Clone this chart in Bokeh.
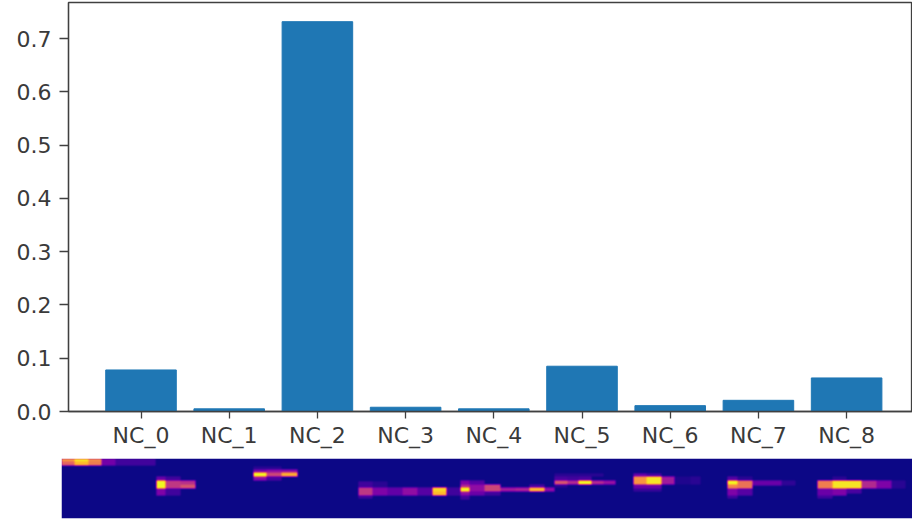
import numpy as np
from bokeh.embed import file_html
from bokeh.resources import INLINE
from bokeh.plotting import figure
from bokeh.layouts import column
from bokeh.models import Range1d, FixedTicker, NumeralTickFormatter, LinearColorMapper
from bokeh.palettes import Plasma256

categories = ["NC_0", "NC_1", "NC_2", "NC_3", "NC_4", "NC_5", "NC_6", "NC_7", "NC_8"]
importance = [0.078, 0.005, 0.732, 0.008, 0.005, 0.085, 0.011, 0.021, 0.063]
y_ticks = [0.0, 0.1, 0.2, 0.3, 0.4, 0.5, 0.6, 0.7]

HEAT_W, HEAT_H = 850, 60
# heat-map patches per component: (column from, column to, row from, row to, intensity)
heat_nc0 = [(0, 13, 0, 3, .75), (0, 13, 3, 7, .6), (13, 27, 0, 3, .95), (13, 27, 3, 7, .85),
            (27, 40, 0, 3, .72), (27, 40, 3, 7, .68), (40, 54, 0, 7, .22), (54, 94, 0, 7, .1)]
heat_nc1 = [(95, 104, 18, 22, .2), (95, 104, 22, 30, 1.0), (95, 104, 30, 37, .25),
            (104, 119, 18, 22, .1), (104, 119, 22, 30, .45), (104, 119, 30, 37, .1),
            (119, 134, 22, 26, .42), (119, 134, 26, 30, .55)]
heat_nc2 = [(192, 220, 8, 11, .05), (192, 205, 11, 14, .25), (192, 205, 14, 18, 1.0), (192, 205, 18, 22, .3),
            (205, 220, 11, 14, .3), (205, 220, 14, 18, .5), (205, 220, 18, 22, .12),
            (220, 236, 11, 14, .3), (220, 236, 14, 18, .82)]
heat_nc3 = [(297, 311, 23, 29, .1), (297, 311, 29, 37, .45), (297, 311, 37, 40, .1),
            (311, 326, 23, 29, .05), (311, 326, 29, 37, .25), (326, 341, 29, 37, .18),
            (341, 356, 29, 37, .3), (356, 371, 29, 37, .15), (371, 385, 29, 33, .92), (371, 385, 33, 37, .85),
            (385, 399, 29, 37, .1)]
heat_nc4 = [(399, 408, 22, 26, .25), (399, 408, 26, 29, .4), (399, 408, 29, 33, 1.0), (399, 408, 33, 37, .3),
            (399, 408, 37, 41, .1), (408, 423, 22, 26, .15), (408, 423, 26, 33, .3), (408, 423, 33, 37, .2),
            (423, 438, 26, 33, .5), (423, 438, 33, 37, .1), (438, 453, 29, 33, .35), (453, 467, 29, 33, .38),
            (467, 482, 26, 29, .12), (467, 482, 29, 33, .85), (482, 492, 29, 33, .3)]
heat_nc5 = [(492, 541, 15, 18, .05), (492, 505, 18, 22, .12), (492, 505, 22, 26, .55), (492, 505, 26, 29, .05),
            (505, 516, 18, 22, .1), (505, 516, 22, 26, .4), (516, 529, 18, 22, .12), (516, 529, 22, 26, 1.0),
            (529, 541, 22, 26, .4), (541, 553, 22, 26, .32)]
heat_nc6 = [(571, 584, 15, 18, .2), (571, 584, 18, 26, .75), (571, 584, 26, 30, .2), (571, 584, 30, 33, .08),
            (584, 599, 15, 18, .12), (584, 599, 18, 26, .95), (584, 599, 26, 30, .2), (584, 599, 30, 33, .08),
            (599, 612, 18, 26, .35), (612, 628, 18, 26, .03), (628, 638, 18, 26, .05)]
heat_nc7 = [(665, 675, 18, 22, .15), (665, 675, 22, 26, 1.0), (665, 675, 26, 30, .7), (665, 675, 30, 37, .25),
            (665, 675, 37, 40, .1), (675, 690, 18, 22, .05), (675, 690, 22, 30, .65), (675, 690, 30, 37, .15),
            (690, 705, 22, 27, .2), (705, 719, 22, 27, .2), (719, 733, 22, 27, .06)]
heat_nc8 = [(755, 770, 22, 30, .68), (755, 770, 30, 37, .2), (755, 770, 37, 40, .1),
            (770, 784, 18, 22, .05), (770, 784, 22, 30, .95), (770, 784, 30, 37, .25),
            (784, 799, 22, 30, .95), (784, 799, 30, 35, .12), (799, 814, 22, 30, .4),
            (814, 829, 22, 30, .25), (829, 843, 22, 30, .05)]
heat_patches = [heat_nc0, heat_nc1, heat_nc2, heat_nc3, heat_nc4, heat_nc5, heat_nc6, heat_nc7, heat_nc8]

heat = np.zeros((HEAT_H, HEAT_W))
for group in heat_patches:
    for c0, c1, r0, r1, v in group:
        heat[r0:r1, c0:c1] = v
# the reference image is soft: one light pass of smoothing along each axis
kernel = np.array([1, 2, 1]) / 4
heat = np.apply_along_axis(lambda r: np.convolve(r, kernel, mode="same"), 1, heat)
heat = np.apply_along_axis(lambda c: np.convolve(c, kernel, mode="same"), 0, heat)

INK = "#404040"
p = figure(width=912, height=451, output_backend="svg", toolbar_location=None,
           x_range=Range1d(-0.822, 8.747), y_range=Range1d(0, 0.768),
           min_border_left=68, min_border_right=0, min_border_top=2, min_border_bottom=40)
p.frame_align = False
p.vbar(x=list(range(len(categories))), top=importance, width=0.8, bottom=0, color="#1f77b4")
p.grid.visible = False
p.outline_line_color = INK
p.outline_line_width = 1.3
p.xaxis.ticker = FixedTicker(ticks=list(range(len(categories))))
p.xaxis.major_label_overrides = {i: c for i, c in enumerate(categories)}
p.yaxis.ticker = FixedTicker(ticks=y_ticks)
p.yaxis.formatter = NumeralTickFormatter(format="0.0")
for ax in (p.xaxis[0], p.yaxis[0]):
    ax.axis_line_color = INK
    ax.axis_line_width = 1.3
    ax.major_tick_line_color = INK
    ax.major_tick_line_width = 1.3
    ax.major_tick_in = 0
    ax.minor_tick_line_color = None
    ax.major_label_text_font = "DejaVu Sans"
    ax.major_label_text_font_size = "22px"
    ax.major_label_text_color = "#3a3a3a"
p.xaxis[0].major_tick_out = 7
p.xaxis[0].major_label_standoff = 4
p.yaxis[0].major_tick_out = 9
p.yaxis[0].major_label_standoff = 8

h = figure(width=912, height=69, output_backend="svg", toolbar_location=None,
           x_range=Range1d(0, HEAT_W), y_range=Range1d(0, HEAT_H),
           min_border_left=61, min_border_right=0, min_border_top=7, min_border_bottom=2)
h.frame_align = False
h.image(image=[np.flipud(heat)], x=0, y=0, dw=HEAT_W, dh=HEAT_H,
        color_mapper=LinearColorMapper(palette=Plasma256, low=0, high=1))
h.axis.visible = False
h.grid.visible = False
h.outline_line_color = None

page = column(p, h, spacing=0)
open("out.html", "w").write(file_html(page, INLINE))
